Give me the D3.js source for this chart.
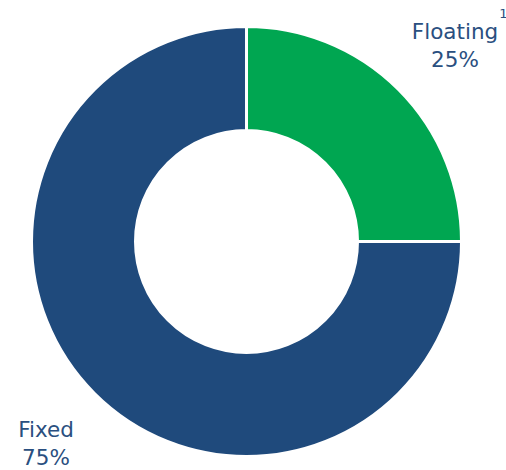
<!DOCTYPE html>
<html>
<head>
<meta charset="utf-8">
<script src="https://cdn.jsdelivr.net/npm/d3@7/dist/d3.min.js"></script>
<style>
  html, body { margin: 0; padding: 0; background: #fff; }
  svg { display: block; }
</style>
</head>
<body>
<svg id="chart" width="506" height="470"></svg>
<script>
// Rate mix of the debt portfolio
const categories = ["Floating", "Fixed"];
const shares = [25, 75];
const superscripts = ["1", ""];
const colors = ["#00a651", "#1f4a7c"];

const svg = d3.select("#chart");
const cx = 246.5, cy = 241.5;
const outerR = 215, innerR = 111;

const pie = d3.pie().sort(null).value(d => d.value);
const data = categories.map((c, i) => ({ name: c, value: shares[i], sup: superscripts[i], color: colors[i] }));
const arcs = pie(data);
const arc = d3.arc().innerRadius(innerR).outerRadius(outerR);

const g = svg.append("g").attr("transform", `translate(${cx},${cy})`);
g.selectAll("path")
  .data(arcs)
  .join("path")
  .attr("d", arc)
  .attr("fill", d => d.data.color)
  .attr("stroke", "#fff")
  .attr("stroke-width", 3);

// Category labels with percentage beneath
const labelPos = [
  { x: 455, y: 39 },
  { x: 46, y: 437 }
];
const labelColor = "#2a4f80";
const font = "'DejaVu Sans', sans-serif";
const fontSize = 21.5;

arcs.forEach((a, i) => {
  const p = labelPos[i];
  const t = svg.append("text")
    .attr("x", p.x).attr("y", p.y)
    .attr("text-anchor", "middle")
    .attr("font-family", font)
    .attr("font-size", fontSize)
    .attr("fill", labelColor)
    .text(a.data.name);
  svg.append("text")
    .attr("x", p.x).attr("y", p.y + 28)
    .attr("text-anchor", "middle")
    .attr("font-family", font)
    .attr("font-size", fontSize)
    .attr("fill", labelColor)
    .text(a.data.value + "%");
  if (a.data.sup) {
    const bb = t.node().getBBox();
    svg.append("text")
      .attr("x", bb.x + bb.width + 1).attr("y", p.y - 21)
      .attr("font-family", font)
      .attr("font-size", 13)
      .attr("fill", labelColor)
      .text(a.data.sup);
  }
});
</script>
</body>
</html>
